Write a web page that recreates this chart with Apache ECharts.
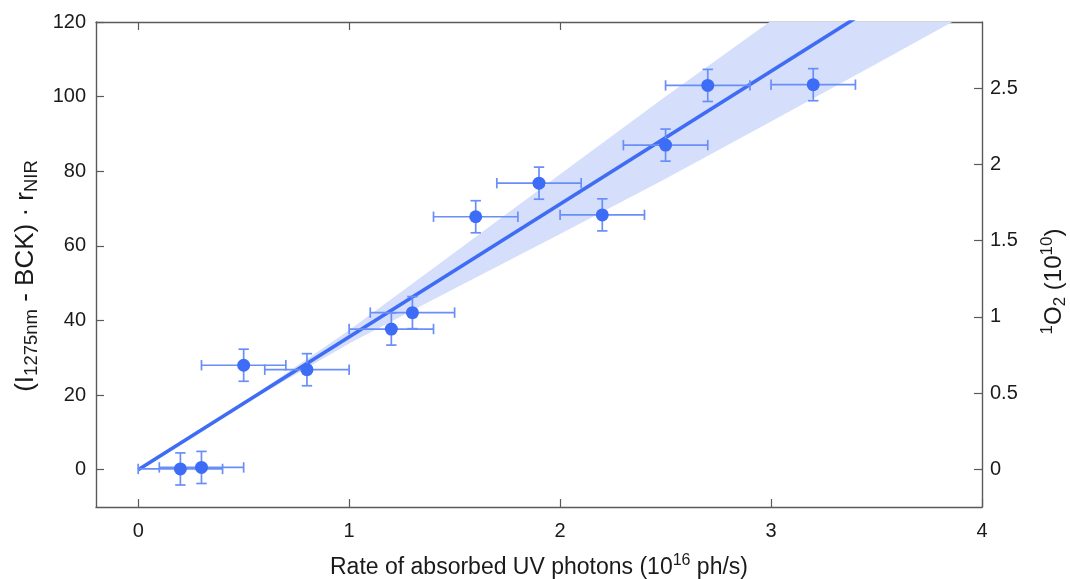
<!DOCTYPE html>
<html><head><meta charset="utf-8">
<script src="https://cdn.jsdelivr.net/npm/echarts@6/dist/echarts.min.js"></script>
<style>html,body{margin:0;padding:0;background:#fff}#c{width:1070px;height:579px}</style>
</head><body><div id="c"></div>
<script>
// ---- data ----
const photonRate    = [0.2, 0.3, 0.5, 0.8, 1.2, 1.3, 1.6, 1.9, 2.2, 2.5, 2.7, 3.2];
const signal        = [0.2, 0.6, 28.0, 26.8, 37.7, 42.1, 67.8, 76.8, 68.3, 87.0, 103.0, 103.2];
const photonRateErr = [0.2, 0.2, 0.2, 0.2, 0.2, 0.2, 0.2, 0.2, 0.2, 0.2, 0.2, 0.2];
const signalErr     = [4.3, 4.3, 4.3, 4.3, 4.3, 4.3, 4.3, 4.3, 4.3, 4.3, 4.3, 4.3];
const fitX = [0, 4];
const fitY = [0, 142.4];
const bandX    = [0, 0.5, 1, 1.5, 2, 2.5, 3, 3.5, 4];
const bandLow  = [0, 17.5, 33.8, 48.6, 63.2, 78.0, 93.3, 108.8, 124.4];
const bandHigh = [0, 18.1, 37.4, 58.2, 79.2, 100.0, 120.3, 140.4, 160.4];
const xTicks  = [0, 1, 2, 3, 4];
const xTopTicks = [0, 1, 2, 3];
const yTicks  = [0, 20, 40, 60, 80, 100, 120];
const y2Ticks = [0, 0.5, 1, 1.5, 2, 2.5];

const FONT = '"Liberation Sans", Arial, Helvetica, sans-serif';
const AXIS_COL = '#5a5a5a';
const LABEL_COL = '#1a1a1a';
const DOT_COL = '#3d6cf6';
const BAR_COL = '#6a8ef8';
const LINE_COL = '#3f6cf4';
const BAND_COL = '#d5dffb';

const chart = echarts.init(document.getElementById('c'), null, {renderer: 'canvas'});

function richSet(big, small, lh) {
  return {
    n: {fontSize: big, fontFamily: FONT, color: LABEL_COL, lineHeight: lh, verticalAlign: 'middle'},
    s: {fontSize: small, fontFamily: FONT, color: LABEL_COL, lineHeight: small, verticalAlign: 'bottom'},
    p: {fontSize: small, fontFamily: FONT, color: LABEL_COL, lineHeight: small, verticalAlign: 'top'}
  };
}

function baseAxis(extra) {
  return Object.assign({
    type: 'value',
    axisLine: {show: true, onZero: false, lineStyle: {color: AXIS_COL, width: 1.4}},
    splitLine: {show: false}
  }, extra);
}
function ticks(vals) {
  return {show: true, inside: true, length: 8, customValues: vals, lineStyle: {color: AXIS_COL, width: 1.2}};
}

const option = {
  animation: false,
  backgroundColor: '#fff',
  grid: {left: 96, right: 88, top: 22, height: 485, containLabel: false, outerBoundsMode: 'none'},
  xAxis: [
    baseAxis({
      position: 'bottom', min: -0.2, max: 4,
      axisTick: ticks(xTicks),
      axisLabel: {show: true, fontSize: 20, fontFamily: FONT, color: LABEL_COL, margin: 14, customValues: xTicks},
      name: '{n|Rate of absorbed UV photons (10}{p|16}{n| ph/s)}',
      nameLocation: 'middle', nameGap: 46,
      nameTextStyle: {rich: richSet(23, 16, 30), color: LABEL_COL}
    }),
    baseAxis({
      position: 'top', min: -0.2, max: 4,
      axisTick: ticks(xTopTicks),
      axisLabel: {show: false}
    })
  ],
  yAxis: [
    baseAxis({
      position: 'left', min: -10, max: 120,
      axisTick: ticks(yTicks),
      axisLabel: {show: true, fontSize: 20, fontFamily: FONT, color: LABEL_COL, margin: 10, customValues: yTicks},
      name: '{n|(I}{s|1275nm}{n| - BCK) · r}{s|NIR}',
      nameLocation: 'middle', nameGap: 54, nameRotate: 90,
      nameTextStyle: {rich: richSet(26, 18.5, 32), padding: [0, 23, 0, 0]}
    }),
    baseAxis({
      position: 'right', min: -0.247, max: 2.933,
      axisTick: ticks(y2Ticks),
      axisLabel: {show: true, fontSize: 20, fontFamily: FONT, color: LABEL_COL, margin: 8, customValues: y2Ticks},
      name: '{p|1}{n|O}{s|2}{n| (10}{p|10}{n|)}',
      nameLocation: 'middle', nameGap: 57, nameRotate: 90,
      nameTextStyle: {rich: richSet(24, 17, 30), padding: [0, 34, 0, 0]}
    })
  ],
  series: [
    {
      type: 'custom', name: 'band', xAxisIndex: 0, yAxisIndex: 0, z: 1, clip: true, silent: true,
      data: bandX.map((x, i) => [x, bandLow[i], bandHigh[i]]),
      encode: {x: 0, y: [1, 2]},
      renderItem: function (params, api) {
        if (params.dataIndex !== 0) return null;
        const pts = [];
        for (let i = 0; i < bandX.length; i++) pts.push(api.coord([bandX[i], bandHigh[i]]));
        for (let i = bandX.length - 1; i >= 0; i--) pts.push(api.coord([bandX[i], bandLow[i]]));
        const cs = params.coordSys;
        return {
          type: 'polygon', shape: {points: pts}, style: {fill: BAND_COL},
          clipPath: {type: 'rect', shape: {x: cs.x, y: cs.y, width: cs.width, height: cs.height}}
        };
      }
    },
    {
      type: 'line', name: 'fit', xAxisIndex: 0, yAxisIndex: 0, z: 2, clip: true,
      data: fitX.map((x, i) => [x, fitY[i]]),
      showSymbol: false, symbol: 'none',
      lineStyle: {color: LINE_COL, width: 3.6}
    },
    {
      type: 'custom', name: 'errors', xAxisIndex: 0, yAxisIndex: 0, z: 3,
      data: photonRate.map((x, i) => [x, signal[i], photonRateErr[i], signalErr[i]]),
      encode: {x: 0, y: 1},
      renderItem: function (params, api) {
        const x = api.value(0), y = api.value(1), ex = api.value(2), ey = api.value(3);
        const l = api.coord([x - ex, y]), r = api.coord([x + ex, y]);
        const t = api.coord([x, y + ey]), b = api.coord([x, y - ey]);
        const c = 5.2;
        const st = {stroke: BAR_COL, lineWidth: 1.7};
        const ln = (x1, y1, x2, y2) => ({type: 'line', shape: {x1, y1, x2, y2}, style: st});
        return {type: 'group', children: [
          ln(l[0], l[1], r[0], r[1]),
          ln(t[0], t[1], b[0], b[1]),
          ln(l[0], l[1] - c, l[0], l[1] + c),
          ln(r[0], r[1] - c, r[0], r[1] + c),
          ln(t[0] - c, t[1], t[0] + c, t[1]),
          ln(b[0] - c, b[1], b[0] + c, b[1])
        ]};
      }
    },
    {
      type: 'scatter', name: 'data', xAxisIndex: 0, yAxisIndex: 0, z: 4,
      data: photonRate.map((x, i) => [x, signal[i]]),
      symbol: 'circle', symbolSize: 13,
      itemStyle: {color: DOT_COL, opacity: 1}
    }
  ]
};
chart.setOption(option);
</script>
</body></html>
